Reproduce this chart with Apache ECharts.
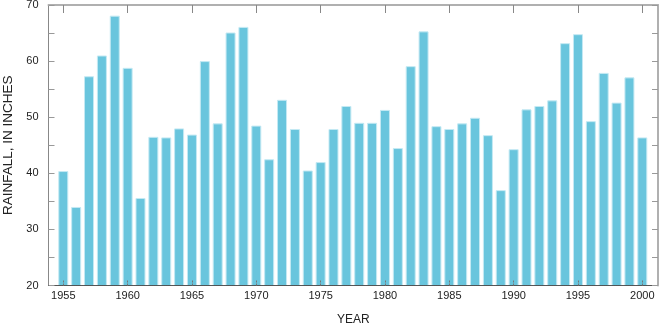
<!DOCTYPE html>
<html>
<head>
<meta charset="utf-8">
<script src="https://cdn.jsdelivr.net/npm/echarts@6/dist/echarts.min.js"></script>
<style>
  html, body { margin: 0; padding: 0; background: #fff; overflow: hidden; }
  #chart { width: 659px; height: 324px; }
</style>
</head>
<body>
<div id="chart"></div>
<script>
// Annual rainfall, 1955–2000
const years = [
  1955, 1956, 1957, 1958, 1959, 1960, 1961, 1962, 1963, 1964,
  1965, 1966, 1967, 1968, 1969, 1970, 1971, 1972, 1973, 1974,
  1975, 1976, 1977, 1978, 1979, 1980, 1981, 1982, 1983, 1984,
  1985, 1986, 1987, 1988, 1989, 1990, 1991, 1992, 1993, 1994,
  1995, 1996, 1997, 1998, 1999, 2000
];
const rainfall = [
  40.4, 34.0, 57.3, 61.0, 68.1, 58.8, 35.6, 46.5, 46.4, 48.0,
  46.9, 60.0, 48.9, 65.1, 66.1, 48.5, 42.5, 53.1, 47.9, 40.5,
  42.0, 47.9, 52.0, 49.0, 49.0, 51.3, 44.5, 59.1, 65.3, 48.4,
  47.9, 48.9, 49.9, 46.8, 37.0, 44.3, 51.4, 52.0, 53.0, 63.2,
  64.8, 49.3, 57.9, 52.6, 57.1, 46.4
];
const yearTicks = [1955, 1960, 1965, 1970, 1975, 1980, 1985, 1990, 1995, 2000];
const rainTicks = [20, 30, 40, 50, 60, 70];

const FONT = 'Liberation Sans, Arial, sans-serif';
const TEXT = '#222';
// padding either side of the first and last bars
const xMin = 1953.85, xMax = 2001.22;

const chart = echarts.init(document.getElementById('chart'), null, { renderer: 'canvas' });
chart.setOption({
  animation: false,
  backgroundColor: '#ffffff',
  grid: { left: 48.5, right: 1, top: 5, bottom: 38.5, containLabel: false, outerBoundsMode: 'none' },
  xAxis: [
    {
      type: 'value', position: 'bottom', min: xMin, max: xMax, z: 10,
      name: 'YEAR', nameLocation: 'middle', nameGap: 28,
      nameTextStyle: { fontFamily: FONT, fontSize: 12, color: TEXT },
      axisLine: { show: true, onZero: false, lineStyle: { color: '#444', type: 'dotted', width: 1 } },
      axisTick: { show: true, inside: true, length: 6, customValues: yearTicks,
                  lineStyle: { color: '#777', type: [2, 1], width: 1 } },
      axisLabel: { show: true, customValues: yearTicks, margin: 5,
                   fontFamily: FONT, fontSize: 11, color: TEXT,
                   formatter: v => String(v) },
      splitLine: { show: false }
    },
    {
      type: 'value', position: 'top', min: xMin, max: xMax, z: 10,
      axisLine: { show: true, onZero: false, lineStyle: { color: '#b0b0b0', width: 2 } },
      axisTick: { show: true, inside: true, length: 8, customValues: yearTicks,
                  lineStyle: { color: '#888', width: 1 } },
      axisLabel: { show: false },
      splitLine: { show: false }
    }
  ],
  yAxis: [
    {
      type: 'value', position: 'left', min: 20, max: 70, interval: 10, z: 10,
      name: 'RAINFALL, IN INCHES', nameLocation: 'middle', nameRotate: 90, nameGap: 27.5,
      nameTextStyle: { fontFamily: FONT, fontSize: 13.5, color: TEXT },
      axisLine: { show: true, onZero: false, lineStyle: { color: '#888', width: 1 } },
      axisTick: { show: true, inside: true, length: 6, lineStyle: { color: '#999' } },
      minorTick: { show: true, splitNumber: 2, length: 6, lineStyle: { color: '#999' } },
      axisLabel: { margin: 10, fontFamily: FONT, fontSize: 11, color: TEXT,
                   formatter: v => (rainTicks.includes(v) ? String(v) : '') },
      splitLine: { show: false }
    },
    {
      type: 'value', position: 'right', min: 20, max: 70, interval: 5, z: 10,
      axisLine: { show: true, onZero: false, lineStyle: { color: '#b0b0b0', width: 2 } },
      axisTick: { show: true, inside: true, length: 6, lineStyle: { color: '#999' } },
      axisLabel: { show: false },
      splitLine: { show: false }
    }
  ],
  series: [
    {
      type: 'bar',
      xAxisIndex: 0, yAxisIndex: 0,
      barWidth: 10,
      data: years.map((y, i) => [y, rainfall[i]]),
      itemStyle: { color: '#69C5DD', borderColor: '#c4e9f3', borderWidth: 1 },
      z: 1
    }
  ]
});
</script>
</body>
</html>
